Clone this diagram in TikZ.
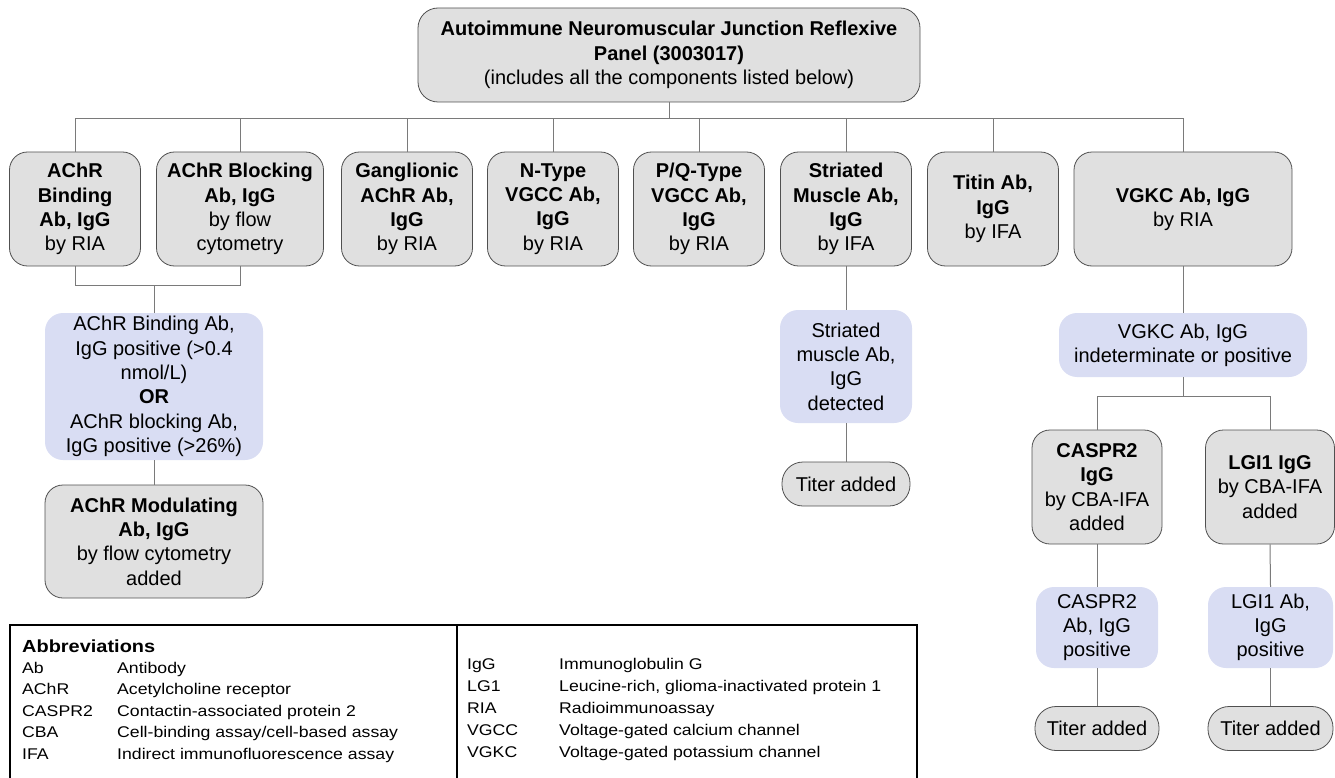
\documentclass[tikz,border=0pt]{standalone}
\usepackage{fontspec}
\setmainfont{Liberation Sans}
\newfontfamily\widefont{Liberation Sans}[FakeStretch=1.14]
\definecolor{testfill}{HTML}{E0E0E0}
\definecolor{testline}{HTML}{505050}
\definecolor{hitfill}{HTML}{D9DDF3}
\definecolor{linkgray}{HTML}{7A7A7A}
\usepackage{tikz}

\begin{document}
\begin{tikzpicture}[x=1pt,y=-1pt,
    testbox/.style={draw=testline,line width=0.8pt,fill=testfill,rounded corners=18pt,align=center,inner sep=2pt,font=\fontsize{20}{24.3}\selectfont},
    hitbox/.style={fill=hitfill,rounded corners=18pt,align=center,inner sep=2pt,font=\fontsize{20}{24.3}\selectfont},
    titerbox/.style={testbox,rounded corners=21pt,minimum height=44,minimum width=128},
    link/.style={draw=linkgray,line width=1pt},
    abbr/.style={anchor=base west,inner sep=0pt,font=\widefont\fontsize{15.5}{18}\selectfont}]
  \useasboundingbox (0,0) rectangle (1335,778);

  % panel
  \node[testbox,rounded corners=20pt,minimum width=502,minimum height=94] (panel) at (669,55)
    {\textbf{Autoimmune Neuromuscular Junction Reflexive}\\\textbf{Panel (3003017)}\\(includes all the components listed below)};

  % first tier
  \node[testbox,minimum width=131,minimum height=114] (binding) at (75,209) {\textbf{AChR}\\\textbf{Binding}\\\textbf{Ab, IgG}\\by RIA};
  \node[testbox,minimum width=167,minimum height=114] (blocking) at (240,209) {\textbf{AChR Blocking}\\\textbf{Ab, IgG}\\by flow\\cytometry};
  \node[testbox,minimum width=131,minimum height=114] (ganglionic) at (407,209) {\textbf{Ganglionic}\\\textbf{AChR Ab,}\\\textbf{IgG}\\by RIA};
  \node[testbox,minimum width=131,minimum height=114] (ntype) at (553,209) {\textbf{N-Type}\\\textbf{VGCC Ab,}\\\textbf{IgG}\\by RIA};
  \node[testbox,minimum width=131,minimum height=114] (pqtype) at (699,209) {\textbf{P/Q-Type}\\\textbf{VGCC Ab,}\\\textbf{IgG}\\by RIA};
  \node[testbox,minimum width=131,minimum height=114] (striated) at (846,209) {\textbf{Striated}\\\textbf{Muscle Ab,}\\\textbf{IgG}\\by IFA};
  \node[testbox,minimum width=131,minimum height=114] (titin) at (993,209) {\textbf{Titin Ab,}\\\textbf{IgG}\\by IFA};
  \node[testbox,minimum width=218,minimum height=114] (vgkc) at (1183,209) {\textbf{VGKC Ab, IgG}\\by RIA};

  \coordinate (bus) at (669,119);
  \draw[link] (panel.south) -- (bus);
  \draw[link] (binding.north) -- (binding.north |- bus) -- (vgkc.north |- bus) -- (vgkc.north);
  \foreach \n in {blocking,ganglionic,ntype,pqtype,striated,titin}
    \draw[link] (\n.north) -- (\n.north |- bus);

  % AChR branch
  \node[hitbox,minimum width=218,minimum height=147] (achrhit) at (154,386.5)
    {AChR Binding Ab,\\IgG positive (>0.4\\nmol/L)\\\textbf{OR}\\AChR blocking Ab,\\IgG positive (>26\%)};
  \node[testbox,minimum width=218,minimum height=113] (modulating) at (154,541.5)
    {\textbf{AChR Modulating}\\\textbf{Ab, IgG}\\by flow cytometry\\added};
  \coordinate (achrjoin) at (154,285);
  \draw[link] (binding.south) -- (binding.south |- achrjoin) -- (blocking.south |- achrjoin) -- (blocking.south);
  \draw[link] (achrjoin) -- (achrhit.north);
  \draw[link] (achrhit.south) -- (modulating.north);

  % striated branch
  \node[hitbox,minimum width=132,minimum height=113] (striatedhit) at (846,366.5) {Striated\\muscle Ab,\\IgG\\detected};
  \node[titerbox] (striatedtiter) at (846,484) {Titer added};
  \draw[link] (striated.south) -- (striatedhit.north);
  \draw[link] (striatedhit.south) -- (striatedtiter.north);

  % VGKC branch
  \node[hitbox,minimum width=248,minimum height=64] (vgkchit) at (1183,345) {VGKC Ab, IgG\\indeterminate or positive};
  \node[testbox,minimum width=130,minimum height=114] (caspr) at (1097,487) {\textbf{CASPR2}\\\textbf{IgG}\\by CBA-IFA\\added};
  \node[testbox,minimum width=129,minimum height=114] (lgi) at (1270,487) {\textbf{LGI1 IgG}\\by CBA-IFA\\added};
  \coordinate (vgkcjoin) at (1183,396);
  \draw[link] (vgkc.south) -- (vgkchit.north);
  \draw[link] (vgkchit.south) -- (vgkcjoin);
  \draw[link] (caspr.north) -- (caspr.north |- vgkcjoin) -- (lgi.north |- vgkcjoin) -- (lgi.north);

  \node[hitbox,minimum width=122,minimum height=81] (casprhit) at (1097,627.5) {CASPR2\\Ab, IgG\\positive};
  \node[hitbox,minimum width=125,minimum height=81] (lgihit) at (1270.5,627.5) {LGI1 Ab,\\IgG\\positive};
  \node[titerbox,minimum width=124] (casprtiter) at (1097,728.5) {Titer added};
  \node[titerbox,minimum width=125] (lgititer) at (1270.5,728.5) {Titer added};
  \draw[link] (caspr.south) -- (casprhit.north);
  \draw[link] (casprhit.south) -- (casprtiter.north);
  \draw[link] (lgi.south) -- (lgihit.north);
  \draw[link] (lgihit.south) -- (lgititer.north);

  % abbreviations
  \draw[line width=1.4pt] (10,790) -- (10,625) -- (917,625) -- (917,790);
  \draw[line width=1.4pt] (457,625) -- (457,790);
  \node[abbr,font=\widefont\fontsize{17.5}{20}\selectfont\bfseries] (abbrtitle) at (22,652) {Abbreviations};
  \foreach \ab/\de [count=\i] in {Ab/Antibody, AChR/Acetylcholine receptor, CASPR2/Contactin-associated protein 2,
      CBA/{Cell-binding assay/cell-based assay}, IFA/Indirect immunofluorescence assay} {
    \node[abbr] (leftab\i) at (22,651.5+21.6*\i) {\ab};
    \node[abbr] (leftde\i) at (117,651.5+21.6*\i) {\de};
  }
  \foreach \ab/\de [count=\i] in {IgG/Immunoglobulin G, LG1/{Leucine-rich, glioma-inactivated protein 1}, RIA/Radioimmunoassay,
      VGCC/Voltage-gated calcium channel, VGKC/Voltage-gated potassium channel} {
    \node[abbr] (rightab\i) at (467,647.5+22*\i) {\ab};
    \node[abbr] (rightde\i) at (559,647.5+22*\i) {\de};
  }
\end{tikzpicture}
\end{document}
